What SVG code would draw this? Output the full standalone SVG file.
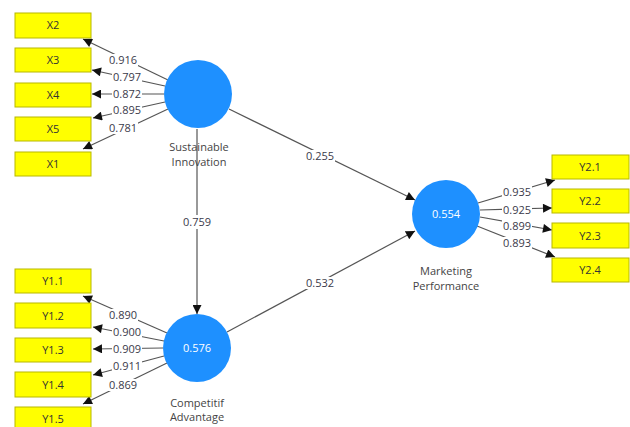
<svg xmlns="http://www.w3.org/2000/svg" width="630" height="427" viewBox="0 0 630 427">
<defs>
<style>
.box{fill:#FFFF00;stroke:#b8b800;stroke-width:1}
.bt{font-family:"Open Sans","Noto Sans",sans-serif;font-size:11px;fill:#333;text-anchor:middle}
.c{fill:#1E90FF}
.ct{font-family:"Open Sans","Noto Sans",sans-serif;font-size:11px;fill:#ffffff;text-anchor:middle}
.nl{font-family:"Open Sans","Noto Sans",sans-serif;font-size:11px;fill:#444;text-anchor:middle}
.ln{stroke:#555;stroke-width:1.2;fill:none;marker-end:url(#ah)}
.lb{fill:#fff}
.lt{font-family:"Open Sans","Noto Sans",sans-serif;font-size:11px;fill:#3a3a4a;text-anchor:middle}
</style>
<marker id="ah" viewBox="0 0 10 10" refX="10" refY="5" markerWidth="10" markerHeight="9" markerUnits="userSpaceOnUse" orient="auto">
<path d="M0,0 L10,5 L0,10 z" fill="#111"/>
</marker>
</defs>
<rect width="630" height="427" fill="#fff"/>
<g id="connectors">
<line class="ln" x1="168" y1="80" x2="83" y2="39"/>
<line class="ln" x1="165" y1="86" x2="92" y2="70"/>
<line class="ln" x1="164" y1="94" x2="92" y2="94"/>
<line class="ln" x1="165" y1="102" x2="93" y2="118"/>
<line class="ln" x1="168" y1="109" x2="83" y2="149"/>
<line class="ln" x1="167" y1="333" x2="83" y2="296"/>
<line class="ln" x1="164" y1="341" x2="93" y2="327"/>
<line class="ln" x1="163" y1="348" x2="93" y2="349"/>
<line class="ln" x1="164" y1="356" x2="93" y2="375"/>
<line class="ln" x1="167" y1="363" x2="83" y2="404"/>
<line class="ln" x1="478" y1="203" x2="555" y2="180"/>
<line class="ln" x1="480" y1="210" x2="552" y2="208"/>
<line class="ln" x1="480" y1="217" x2="552" y2="230"/>
<line class="ln" x1="477" y1="226" x2="555" y2="257"/>
<line class="ln" x1="229" y1="109" x2="415" y2="200"/>
<line class="ln" x1="227" y1="332" x2="415" y2="231"/>
<line class="ln" x1="197" y1="129" x2="197" y2="314"/>
<g>
<rect class="lb" x="108" y="54" width="30" height="12"/><text class="lt" x="123" y="64">0.916</text>
<rect class="lb" x="112" y="71" width="30" height="12"/><text class="lt" x="127" y="81">0.797</text>
<rect class="lb" x="112" y="88" width="30" height="12"/><text class="lt" x="127" y="98">0.872</text>
<rect class="lb" x="112" y="104" width="30" height="12"/><text class="lt" x="127" y="114">0.895</text>
<rect class="lb" x="108" y="122" width="30" height="12"/><text class="lt" x="123" y="132">0.781</text>
<rect class="lb" x="108" y="309" width="30" height="12"/><text class="lt" x="123" y="319">0.890</text>
<rect class="lb" x="112" y="326" width="30" height="12"/><text class="lt" x="127" y="336">0.900</text>
<rect class="lb" x="112" y="343" width="30" height="12"/><text class="lt" x="127" y="353">0.909</text>
<rect class="lb" x="112" y="360" width="30" height="12"/><text class="lt" x="127" y="370">0.911</text>
<rect class="lb" x="108" y="379" width="30" height="12"/><text class="lt" x="123" y="389">0.869</text>
<rect class="lb" x="502" y="186" width="30" height="12"/><text class="lt" x="517" y="196">0.935</text>
<rect class="lb" x="502" y="204" width="30" height="12"/><text class="lt" x="517" y="214">0.925</text>
<rect class="lb" x="502" y="220" width="30" height="12"/><text class="lt" x="517" y="230">0.899</text>
<rect class="lb" x="502" y="237" width="30" height="12"/><text class="lt" x="517" y="247">0.893</text>
<rect class="lb" x="305" y="150" width="30" height="12"/><text class="lt" x="320" y="160">0.255</text>
<rect class="lb" x="305" y="277" width="30" height="12"/><text class="lt" x="320" y="287">0.532</text>
<rect class="lb" x="182" y="215" width="30" height="14"/><text class="lt" x="197" y="226">0.759</text>
</g>
</g>
<g id="X2"><rect class="box" x="15" y="13" width="76" height="25"/><text class="bt" x="53" y="29">X2</text></g>
<g id="X3"><rect class="box" x="15" y="48" width="76" height="24"/><text class="bt" x="53" y="64">X3</text></g>
<g id="X4"><rect class="box" x="15" y="83" width="76" height="24"/><text class="bt" x="53" y="99">X4</text></g>
<g id="X5"><rect class="box" x="15" y="117" width="76" height="24"/><text class="bt" x="53" y="133">X5</text></g>
<g id="X1"><rect class="box" x="15" y="152" width="76" height="24"/><text class="bt" x="53" y="168">X1</text></g>
<g id="Y1.1"><rect class="box" x="15" y="269" width="76" height="24"/><text class="bt" x="53" y="285">Y1.1</text></g>
<g id="Y1.2"><rect class="box" x="15" y="303" width="76" height="25"/><text class="bt" x="53" y="320">Y1.2</text></g>
<g id="Y1.3"><rect class="box" x="15" y="338" width="76" height="24"/><text class="bt" x="53" y="354">Y1.3</text></g>
<g id="Y1.4"><rect class="box" x="15" y="372" width="76" height="25"/><text class="bt" x="53" y="389">Y1.4</text></g>
<g id="Y1.5"><rect class="box" x="15" y="407" width="76" height="25"/><text class="bt" x="53" y="423">Y1.5</text></g>
<g id="Y2.1"><rect class="box" x="552" y="155" width="77" height="24"/><text class="bt" x="590" y="171">Y2.1</text></g>
<g id="Y2.2"><rect class="box" x="552" y="189" width="77" height="24"/><text class="bt" x="590" y="205">Y2.2</text></g>
<g id="Y2.3"><rect class="box" x="552" y="223" width="77" height="25"/><text class="bt" x="590" y="240">Y2.3</text></g>
<g id="Y2.4"><rect class="box" x="552" y="258" width="77" height="24"/><text class="bt" x="590" y="274">Y2.4</text></g>
<g id="SI"><circle class="c" cx="198" cy="94" r="34"/><text class="nl" x="199" y="151">Sustainable</text><text class="nl" x="199" y="166">Innovation</text></g>
<g id="CA"><circle class="c" cx="197" cy="348" r="34"/><text class="ct" x="197" y="352">0.576</text><text class="nl" x="197" y="407">Competitif</text><text class="nl" x="197" y="421">Advantage</text></g>
<g id="MP"><circle class="c" cx="446" cy="214" r="34"/><text class="ct" x="446" y="218">0.554</text><text class="nl" x="446" y="275">Marketing</text><text class="nl" x="446" y="290">Performance</text></g>
</svg>
